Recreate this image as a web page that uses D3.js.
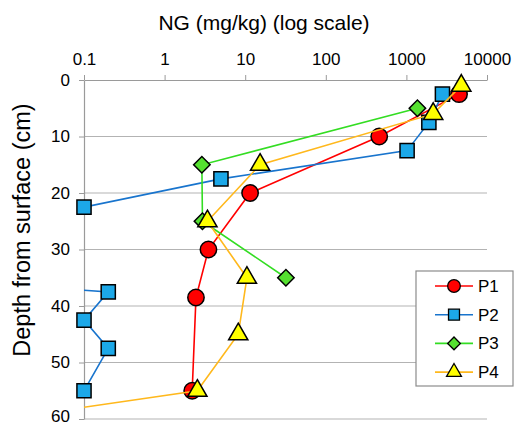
<!DOCTYPE html>
<html><head><meta charset="utf-8">
<script src="https://cdn.jsdelivr.net/npm/d3@7"></script>
<style>body{margin:0;background:#fff;}svg{display:block;font-family:"Liberation Sans",Arial,sans-serif;}</style>
</head><body>
<svg id="c" width="521" height="425"></svg>
<script>
const xTicks = [0.1, 1, 10, 100, 1000, 10000];
const xTickLabels = ["0.1", "1", "10", "100", "1000", "10000"];
const yTicks = [0, 10, 20, 30, 40, 50, 60];
const seriesNames = ["P1", "P2", "P3", "P4"];
const p1Depth = [2.5, 10, 20, 30, 38.5, 55];
const p1Value = [4500, 460, 11.5, 3.5, 2.45, 2.2];
const p2Depth = [2.5, 7.5, 12.5, 17.5, 22.5, 32.5, 37.5, 42.5, 47.5, 55];
const p2Value = [2800, 1900, 1020, 5.0, 0.1, 0.000001, 0.2, 0.1, 0.2, 0.1];
const p3Depth = [5, 15, 25, 35];
const p3Value = [1370, 2.9, 2.95, 32];
const p4Depth = [1, 6, 15, 25, 35, 45, 55, 60];
const p4Value = [4800, 2150, 15.3, 3.4, 10.5, 8.2, 2.55, 0.01];

const series = [
  {name: seriesNames[0], depth: p1Depth, value: p1Value, line: "#FF0000", fill: "#FF0000", shape: d3.symbolCircle, size: 210, rot: 0},
  {name: seriesNames[1], depth: p2Depth, value: p2Value, line: "#1874CD", fill: "#1CA8E8", shape: d3.symbolSquare, size: 200, rot: 0},
  {name: seriesNames[2], depth: p3Depth, value: p3Value, line: "#33DD22", fill: "#55E030", shape: d3.symbolSquare, size: 135, rot: 45},
  {name: seriesNames[3], depth: p4Depth, value: p4Value, line: "#FFB81C", fill: "#FFFF00", shape: d3.symbolTriangle, size: 160, rot: 0}
];

const L = 84, R = 487, T = 80, B = 419;
const x = d3.scaleLog().domain([0.1, 10000]).range([L, R]);
const y = d3.scaleLinear().domain([0, 60]).range([T, B]);
const svg = d3.select("#c");

svg.append("defs").append("clipPath").attr("id", "clipL")
  .append("rect").attr("x", L).attr("y", 0).attr("width", 600).attr("height", 600);

// gridlines
svg.append("g").selectAll("line").data(yTicks.slice(1)).join("line")
  .attr("x1", L).attr("x2", R).attr("y1", d => y(d)).attr("y2", d => y(d))
  .attr("stroke", "#B3B3B3").attr("stroke-width", 1.2);

// x axis (top)
const xAxis = d3.axisTop(x).tickValues(xTicks).tickFormat((d, i) => xTickLabels[i]).tickSize(5).tickSizeOuter(0).tickPadding(10);
const gx = svg.append("g").attr("transform", `translate(0,${T})`).call(xAxis);
gx.select(".domain").attr("stroke", "#9A9A9A").attr("stroke-width", 1.2);
gx.selectAll(".tick line").attr("stroke", "#9A9A9A");
gx.selectAll("text").attr("font-size", 17).attr("fill", "#000").attr("font-family", "Liberation Sans, Arial, sans-serif");

// y axis
const yAxis = d3.axisLeft(y).tickValues(yTicks).tickSize(5).tickSizeOuter(0).tickPadding(9);
const gy = svg.append("g").attr("transform", `translate(${L},0)`).call(yAxis);
gy.select(".domain").attr("stroke", "#9A9A9A").attr("stroke-width", 1.2);
gy.selectAll(".tick line").attr("stroke", "#9A9A9A");
gy.selectAll("text").attr("font-size", 17).attr("dy", d => d === 60 ? "0.12em" : "0.3em")
  .attr("fill", "#000").attr("font-family", "Liberation Sans, Arial, sans-serif");

// titles
svg.append("text").attr("x", 264).attr("y", 30).attr("text-anchor", "middle")
  .attr("font-size", 21).text("NG (mg/kg) (log scale)");
svg.append("text").attr("transform", "translate(30,230) rotate(-90)").attr("text-anchor", "middle")
  .attr("font-size", 23.5).text("Depth from surface (cm)");

// series
const lineGen = d3.line().x(d => x(d.v)).y(d => y(d.d));
series.forEach(s => {
  const pts = s.depth.map((d, i) => ({d: d, v: s.value[i]}));
  const g = svg.append("g");
  g.append("path").datum(pts).attr("d", lineGen).attr("fill", "none")
    .attr("stroke", s.line).attr("stroke-width", 1.6).attr("clip-path", "url(#clipL)");
  g.selectAll("path.m").data(pts.filter(p => p.v >= 0.1)).join("path").attr("class", "m")
    .attr("transform", p => `translate(${x(p.v)},${y(p.d)}) rotate(${s.rot})`)
    .attr("d", d3.symbol().type(s.shape).size(s.size))
    .attr("fill", s.fill).attr("stroke", "#000").attr("stroke-width", 1.5);
});

// legend
const lg = svg.append("g");
lg.append("rect").attr("x", 416).attr("y", 271).attr("width", 97).attr("height", 115)
  .attr("fill", "#fff").attr("stroke", "#8C8C8C").attr("stroke-width", 1.2);
series.forEach((s, i) => {
  const cy = 286 + i * 28.7;
  lg.append("line").attr("x1", 435).attr("x2", 473).attr("y1", cy).attr("y2", cy)
    .attr("stroke", s.line).attr("stroke-width", 1.6);
  lg.append("path").attr("transform", `translate(454,${cy}) rotate(${s.rot})`)
    .attr("d", d3.symbol().type(s.shape).size(s.size * 0.6))
    .attr("fill", s.fill).attr("stroke", "#000").attr("stroke-width", 1.3);
  lg.append("text").attr("x", 478).attr("y", cy + 6).attr("font-size", 17).text(s.name);
});
</script>
</body></html>
